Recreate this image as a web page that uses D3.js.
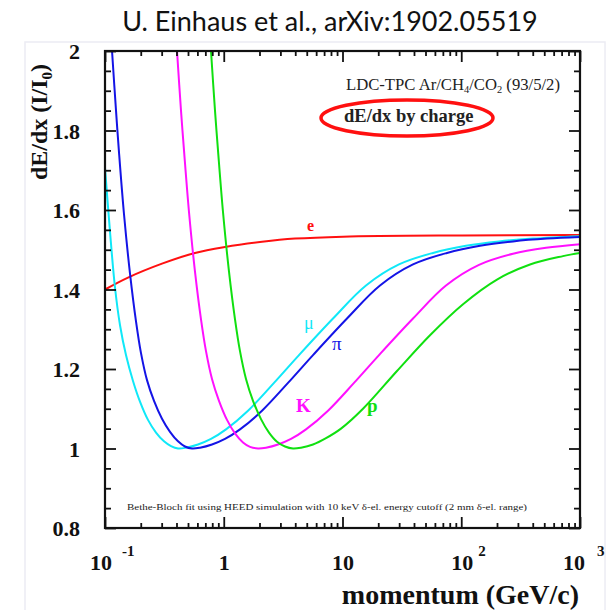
<!DOCTYPE html>
<html>
<head>
<meta charset="utf-8">
<script src="https://cdn.jsdelivr.net/npm/d3@7"></script>
<style>
  html, body { margin: 0; padding: 0; background: #fff; }
  svg { display: block; }
</style>
</head>
<body>
<svg id="chart" width="614" height="610"></svg>
<script>
// Bethe-Bloch dE/dx curves in LDC-TPC gas, per particle species.
// Momentum in GeV/c, dE/dx normalised to the minimum (I/I0).
const electronP    = [0.1, 0.1562, 0.302, 0.5725, 1.0245, 2.099, 3.981, 10.10, 101.5, 1000];
const electronDEdx = [1.400, 1.430, 1.465, 1.492, 1.507, 1.520, 1.528, 1.533, 1.536, 1.537];

const muonP    = [0.1, 0.1102, 0.1214, 0.1338, 0.1502, 0.1721, 0.1971, 0.2302, 0.2689, 0.3139, 0.3596, 0.4119, 0.481, 0.6068, 0.7809, 1.0446, 1.6005, 2.650, 4.302, 8.318, 15.77, 29.90, 57.84, 109.6, 207.9, 402.0, 1000];
const muonDEdx = [1.706, 1.545, 1.405, 1.310, 1.235, 1.170, 1.118, 1.072, 1.040, 1.018, 1.006, 1.000, 1.002, 1.010, 1.024, 1.048, 1.095, 1.165, 1.235, 1.327, 1.410, 1.463, 1.492, 1.510, 1.521, 1.528, 1.534];

const pionP    = [0.1146, 0.1238, 0.1312, 0.1445, 0.1624, 0.1824, 0.2010, 0.2258, 0.2587, 0.3020, 0.3527, 0.4119, 0.4717, 0.5402, 0.6310, 0.7962, 1.0245, 1.370, 2.099, 3.476, 5.645, 10.91, 20.69, 39.24, 75.86, 143.9, 272.8, 527.4, 1000];
const pionDEdx = [2.000, 1.850, 1.745, 1.590, 1.440, 1.320, 1.240, 1.172, 1.120, 1.075, 1.042, 1.018, 1.005, 1.000, 1.002, 1.010, 1.024, 1.048, 1.095, 1.165, 1.235, 1.327, 1.410, 1.463, 1.492, 1.510, 1.521, 1.528, 1.532];

const kaonP    = [0.4040, 0.4365, 0.4627, 0.5097, 0.5725, 0.6433, 0.7088, 0.7962, 0.9120, 1.0651, 1.2439, 1.4526, 1.6637, 1.9429, 2.2689, 2.8634, 3.6846, 4.9268, 7.549, 12.50, 20.30, 39.24, 74.38, 141.1, 272.8, 517.2, 1000];
const kaonDEdx = [2.000, 1.850, 1.750, 1.595, 1.445, 1.325, 1.245, 1.175, 1.120, 1.072, 1.038, 1.015, 1.004, 1.000, 1.002, 1.010, 1.024, 1.048, 1.095, 1.165, 1.235, 1.327, 1.410, 1.462, 1.490, 1.505, 1.514];

const protonP    = [0.7809, 0.8439, 0.8945, 0.9856, 1.1072, 1.2439, 1.3703, 1.5396, 1.7634, 2.0592, 2.4046, 2.8084, 3.2805, 3.8304, 4.4723, 5.6449, 7.2617, 9.7134, 14.88, 28.76, 54.57, 103.5, 200.0, 379.3, 719.3, 1000];
const protonDEdx = [2.000, 1.850, 1.750, 1.595, 1.445, 1.325, 1.245, 1.175, 1.120, 1.074, 1.040, 1.017, 1.005, 1.000, 1.002, 1.010, 1.026, 1.050, 1.100, 1.195, 1.285, 1.363, 1.425, 1.463, 1.484, 1.492];

const species = ["e", "μ", "π", "K", "p"];
const speciesColors = ["#ff1010", "#10e8f8", "#1414e6", "#ff10ff", "#10e010"];

const xMajorTicks = [0.1, 1, 10, 100, 1000];
const xTickBase = ["10", "1", "10", "10", "10"];
const xTickExp  = ["-1", "", "", "2", "3"];
const yMajorTicks = [0.8, 1.0, 1.2, 1.4, 1.6, 1.8, 2.0];
const yTickLabels = ["0.8", "1", "1.2", "1.4", "1.6", "1.8", "2"];

const svg = d3.select("#chart");
const serif = "'Liberation Serif', 'Times New Roman', serif";

const plot = { left: 105, right: 580, top: 51, bottom: 528 };
const x = d3.scaleLog().domain([0.1, 1000]).range([plot.left, plot.right]);
const y = d3.scaleLinear().domain([0.8, 2.0]).range([plot.bottom, plot.top]);

// faint border of the figure panel
svg.append("rect")
  .attr("x", 25).attr("y", 42).attr("width", 580).attr("height", 575)
  .attr("fill", "none").attr("stroke", "#ececf3").attr("stroke-width", 1.5);

// title
svg.append("text")
  .attr("x", 330).attr("y", 31)
  .attr("text-anchor", "middle")
  .attr("font-family", "Lato, 'Open Sans', sans-serif")
  .attr("font-size", 27).attr("fill", "#111")
  .text("U. Einhaus et al., arXiv:1902.05519");

// clip region for curves
svg.append("clipPath").attr("id", "plotClip")
  .append("rect")
  .attr("x", plot.left).attr("y", plot.top)
  .attr("width", plot.right - plot.left).attr("height", plot.bottom - plot.top);

const seriesData = [
  [electronP, electronDEdx],
  [muonP, muonDEdx],
  [pionP, pionDEdx],
  [kaonP, kaonDEdx],
  [protonP, protonDEdx]
];

const line = d3.line()
  .x(d => x(d[0]))
  .y(d => y(d[1]))
  .curve(d3.curveCatmullRom.alpha(0.5));

const curves = svg.append("g").attr("clip-path", "url(#plotClip)");
seriesData.forEach(([ps, vs], i) => {
  const pts = ps.map((p, j) => [p, vs[j]]);
  curves.append("path")
    .datum(pts)
    .attr("d", line)
    .attr("fill", "none")
    .attr("stroke", speciesColors[i])
    .attr("stroke-width", 2);
});

// axes: inward ticks on all four sides
const xMinor = [];
for (let dec = 0.1; dec < 1000; dec *= 10) {
  for (let k = 2; k <= 9; k++) xMinor.push(dec * k);
}
const xAxisBottom = d3.axisBottom(x).tickValues(xMajorTicks).tickSize(-11).tickFormat("");
const xAxisBottomMinor = d3.axisBottom(x).tickValues(xMinor).tickSize(-5).tickFormat("");
const xAxisTop = d3.axisTop(x).tickValues(xMajorTicks).tickSize(-11).tickFormat("");
const xAxisTopMinor = d3.axisTop(x).tickValues(xMinor).tickSize(-5).tickFormat("");

const yMinor = d3.range(0.85, 2.0, 0.05).filter(v => Math.abs(Math.round(v * 5) - v * 5) > 1e-6);
const yAxisLeft = d3.axisLeft(y).tickValues(yMajorTicks).tickSize(-11).tickFormat("");
const yAxisLeftMinor = d3.axisLeft(y).tickValues(yMinor).tickSize(-6).tickFormat("");
const yAxisRight = d3.axisRight(y).tickValues(yMajorTicks).tickSize(-11).tickFormat("");
const yAxisRightMinor = d3.axisRight(y).tickValues(yMinor).tickSize(-6).tickFormat("");

function styleAxis(g) {
  g.select(".domain").remove();
  g.selectAll(".tick line").attr("stroke", "#111").attr("stroke-width", 1.8);
}
svg.append("g").attr("transform", `translate(0,${plot.bottom})`).call(xAxisBottom).call(styleAxis);
svg.append("g").attr("transform", `translate(0,${plot.bottom})`).call(xAxisBottomMinor).call(styleAxis);
svg.append("g").attr("transform", `translate(0,${plot.top})`).call(xAxisTop).call(styleAxis);
svg.append("g").attr("transform", `translate(0,${plot.top})`).call(xAxisTopMinor).call(styleAxis);
svg.append("g").attr("transform", `translate(${plot.left},0)`).call(yAxisLeft).call(styleAxis);
svg.append("g").attr("transform", `translate(${plot.left},0)`).call(yAxisLeftMinor).call(styleAxis);
svg.append("g").attr("transform", `translate(${plot.right},0)`).call(yAxisRight).call(styleAxis);
svg.append("g").attr("transform", `translate(${plot.right},0)`).call(yAxisRightMinor).call(styleAxis);

// frame
svg.append("rect")
  .attr("x", plot.left).attr("y", plot.top)
  .attr("width", plot.right - plot.left).attr("height", plot.bottom - plot.top)
  .attr("fill", "none").attr("stroke", "#111").attr("stroke-width", 2.2);

// y tick labels
yMajorTicks.forEach((v, i) => {
  svg.append("text")
    .attr("x", 80).attr("y", y(v) + 8)
    .attr("text-anchor", "end")
    .attr("font-family", serif).attr("font-weight", "bold")
    .attr("font-size", 22).attr("fill", "#111")
    .text(yTickLabels[i]);
});

// x tick labels, powers of ten with superscript exponents
const baseShift = { "-1": -15, "": -5, "2": -10, "3": -17 };
const expGap = { "-1": 10, "2": 5, "3": 12 };
xMajorTicks.forEach((v, i) => {
  const base = xTickBase[i];
  const exp = xTickExp[i];
  const t = svg.append("text")
    .attr("y", 570)
    .attr("font-family", serif).attr("font-weight", "bold")
    .attr("font-size", 22).attr("fill", "#111");
  const shift = exp ? baseShift[exp] : -(base.length * 11) / 2 + 0.5;
  t.attr("x", x(v) + shift);
  t.append("tspan").text(base);
  if (exp) {
    t.append("tspan")
      .attr("dx", expGap[exp]).attr("dy", -14)
      .attr("font-size", 15)
      .text(exp);
  }
});

// axis titles
const yTitle = svg.append("text")
  .attr("transform", "translate(47,122) rotate(-90)")
  .attr("text-anchor", "middle")
  .attr("font-family", serif).attr("font-weight", "bold")
  .attr("font-size", 24).attr("fill", "#111");
yTitle.append("tspan").text("dE/dx (I/I");
yTitle.append("tspan").attr("font-size", 15).attr("dy", 5).text("0");
yTitle.append("tspan").attr("dy", -5).text(")");

svg.append("text")
  .attr("x", 579).attr("y", 604)
  .attr("text-anchor", "end")
  .attr("font-family", serif).attr("font-weight", "bold")
  .attr("font-size", 28).attr("fill", "#111")
  .text("momentum (GeV/c)");

// gas description and selection note
const gas = svg.append("text")
  .attr("x", 346).attr("y", 90)
  .attr("font-family", serif).attr("font-size", 16).attr("fill", "#222")
  .attr("textLength", 214).attr("lengthAdjust", "spacingAndGlyphs");
gas.append("tspan").text("LDC-TPC Ar/CH");
gas.append("tspan").attr("font-size", 10).attr("dy", 3).text("4");
gas.append("tspan").attr("dy", -3).text("/CO");
gas.append("tspan").attr("font-size", 10).attr("dy", 3).text("2");
gas.append("tspan").attr("dy", -3).text(" (93/5/2)");

svg.append("text")
  .attr("x", 344).attr("y", 122)
  .attr("font-family", serif).attr("font-weight", "bold")
  .attr("font-size", 18.5).attr("fill", "#222")
  .text("dE/dx by charge");

svg.append("ellipse")
  .attr("cx", 407).attr("cy", 118).attr("rx", 86).attr("ry", 18)
  .attr("fill", "none").attr("stroke", "#ff1010").attr("stroke-width", 3.5);

svg.append("text")
  .attr("x", 127).attr("y", 510)
  .attr("font-family", serif).attr("font-size", 9).attr("fill", "#222")
  .attr("textLength", 400).attr("lengthAdjust", "spacingAndGlyphs")
  .text("Bethe-Bloch fit using HEED simulation with 10 keV δ-el. energy cutoff (2 mm δ-el. range)");

// species labels next to their curves
const labelPos = [
  { x: 307, y: 231, size: 16, bold: true },
  { x: 304, y: 329, size: 18, bold: false },
  { x: 332, y: 350, size: 19, bold: false },
  { x: 296, y: 412, size: 19, bold: true },
  { x: 367, y: 412, size: 19, bold: true }
];
species.forEach((s, i) => {
  const lp = labelPos[i];
  svg.append("text")
    .attr("x", lp.x).attr("y", lp.y)
    .attr("font-family", serif)
    .attr("font-weight", lp.bold ? "bold" : "normal")
    .attr("font-size", lp.size)
    .attr("fill", speciesColors[i])
    .text(s);
});
</script>
</body>
</html>
